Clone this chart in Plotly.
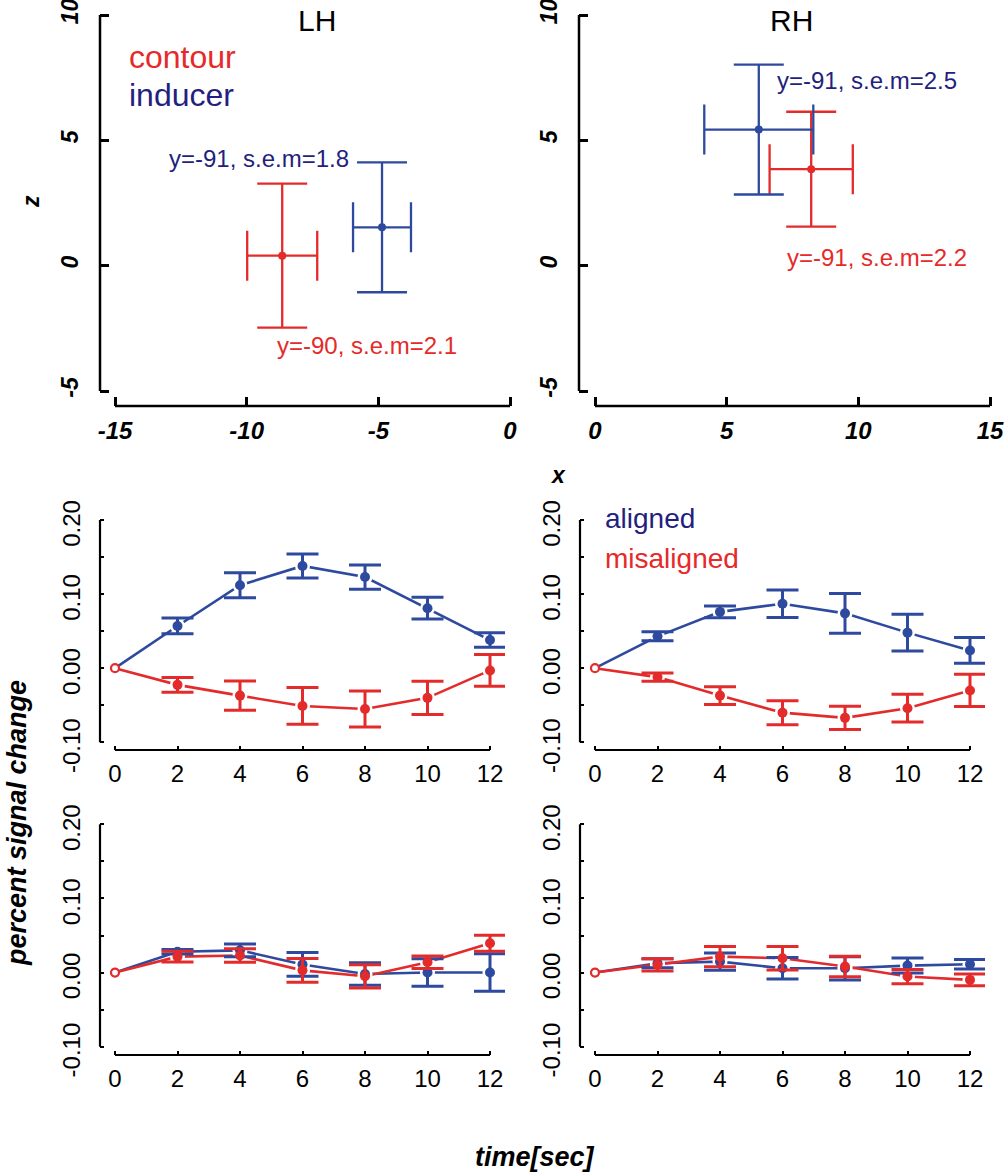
import plotly.graph_objects as go

W, H = 1004, 1172

RED = "#e32b2b"
BLUE = "#2e4a9e"
RED_TXT = "#e62a2a"
NAVY = "#241f7e"
FONT = "Liberation Sans, Arial, sans-serif"

# top row: peak location (x, z) with s.e.m. per hemisphere
hemis = ["LH", "RH"]
contour_x = [-8.65, 8.21]
contour_z = [0.40, 3.85]
contour_x_err = [1.33, 1.58]
contour_z_err = [2.87, 2.29]
inducer_x = [-4.86, 6.22]
inducer_z = [1.53, 5.43]
inducer_x_err = [1.10, 2.07]
inducer_z_err = [2.59, 2.59]
contour_notes = ["y=-90, s.e.m=2.1", "y=-91, s.e.m=2.2"]
inducer_notes = ["y=-91, s.e.m=1.8", "y=-91, s.e.m=2.5"]

# time courses (percent signal change)
time_sec = [0, 2, 4, 6, 8, 10, 12]

lh_aligned = [0, 0.057, 0.112, 0.138, 0.123, 0.081, 0.038]
lh_aligned_err = [0, 0.0106, 0.0169, 0.0162, 0.0164, 0.0146, 0.0097]
lh_misaligned = [0, -0.0225, -0.037, -0.051, -0.055, -0.040, -0.003]
lh_misaligned_err = [0, 0.0101, 0.0198, 0.0248, 0.0243, 0.0225, 0.0214]

rh_aligned = [0, 0.043, 0.076, 0.087, 0.074, 0.048, 0.024]
rh_aligned_err = [0, 0.0061, 0.0079, 0.0187, 0.0268, 0.0248, 0.0173]
rh_misaligned = [0, -0.012, -0.037, -0.060, -0.067, -0.054, -0.030]
rh_misaligned_err = [0, 0.0056, 0.0119, 0.0162, 0.0158, 0.0187, 0.0218]

lh_aligned_ctrl = [0, 0.028, 0.030, 0.011, -0.002, 0.0, 0.0]
lh_aligned_ctrl_err = [0, 0.003, 0.0085, 0.0161, 0.0152, 0.0186, 0.0253]
lh_misaligned_ctrl = [0, 0.0215, 0.023, 0.003, -0.005, 0.014, 0.0395]
lh_misaligned_ctrl_err = [0, 0.0072, 0.009, 0.0159, 0.0157, 0.0085, 0.0108]

rh_aligned_ctrl = [0, 0.0126, 0.0148, 0.0058, 0.0058, 0.0094, 0.0112]
rh_aligned_ctrl_err = [0, 0.006, 0.0117, 0.0146, 0.0157, 0.0101, 0.0065]
rh_misaligned_ctrl = [0, 0.0103, 0.0215, 0.0193, 0.0081, -0.0054, -0.0099]
rh_misaligned_ctrl_err = [0, 0.0083, 0.0135, 0.0157, 0.0139, 0.0096, 0.0078]

top_x_ticks = [[-15, -10, -5, 0], [0, 5, 10, 15]]
top_z_ticks = [-5, 0, 5, 10]
psc_ticks = [-0.10, -0.05, 0.00, 0.05, 0.10, 0.15, 0.20]
psc_labels = ["-0.10", "", "0.00", "", "0.10", "", "0.20"]


def px_range(p0, v0, p1, v1, d0, d1):
    """Map two pixel positions of known values to a range for pixel domain [d0, d1]."""
    k = (v1 - v0) / (p1 - p0)
    return [v0 + (d0 - p0) * k, v0 + (d1 - p0) * k]


def dom_x(a, b):
    return [a / W, b / W]


def dom_y(top, bottom):
    return [1 - bottom / H, 1 - top / H]


fig = go.Figure()

bold_x = dict(family=FONT, size=24, color="black", weight="bold", style="italic")
bold_y = dict(family=FONT, size=23, color="black", weight="bold", style="italic")
plain = dict(family=FONT, size=24, color="black")

# panel geometry in pixels: x/y domain and two (pixel, value) tick anchors per axis
panels = [
    # top row
    dict(xd=(100, 525), yd=(0, 406), xp=(115, -15, 510, 0), yp=(391, -5, 15, 10)),
    dict(xd=(579, 1004), yd=(0, 406), xp=(595, 0, 990, 15), yp=(391, -5, 15, 10)),
    # middle row
    dict(xd=(100, 505), yd=(505, 750), xp=(115, 0, 490, 12), yp=(742.3, -0.1, 520, 0.2)),
    dict(xd=(580, 985), yd=(505, 750), xp=(595, 0, 970, 12), yp=(742.3, -0.1, 520, 0.2)),
    # bottom row
    dict(xd=(100, 505), yd=(809, 1055), xp=(115, 0, 490, 12), yp=(1046.7, -0.1, 824.3, 0.2)),
    dict(xd=(580, 985), yd=(809, 1055), xp=(595, 0, 970, 12), yp=(1046.7, -0.1, 824.3, 0.2)),
]

layout_axes = {}
shapes = []
for i, p in enumerate(panels):
    n = "" if i == 0 else str(i + 1)
    top = i < 2
    xr = px_range(*p["xp"], p["xd"][0], p["xd"][1])
    yr = px_range(*p["yp"], p["yd"][1], p["yd"][0])
    xt = top_x_ticks[i] if top else time_sec
    yt = top_z_ticks if top else psc_ticks
    common = dict(showgrid=False, zeroline=False, showline=False, ticks="inside",
                  tickcolor="black", fixedrange=True, automargin=False,
                  ticklabeloverflow="allow")
    layout_axes["xaxis" + n] = dict(
        common, domain=dom_x(*p["xd"]), range=xr, anchor="y" + n,
        tickvals=xt, ticktext=[str(v) for v in xt],
        ticklen=9 if top else 4, tickwidth=2.5 if top else 2,
        tickfont=bold_x if top else plain,
        ticklabelstandoff=8 if top else 7,
    )
    layout_axes["yaxis" + n] = dict(
        common, domain=dom_y(*p["yd"]), range=yr, anchor="x" + n,
        tickvals=yt, ticktext=[str(v) for v in yt] if top else psc_labels,
        ticklen=9 if top else 4, tickwidth=2.5 if top else 2,
        tickfont=bold_y if top else plain, tickangle=-90,
        ticklabelstandoff=16 if top else 14,
        ticklabelshift=0 if top else 7,
    )
    lw = 2.5 if top else 2.2
    xref = "x" + n
    yref = "y" + n
    shapes.append(dict(type="line", xref=xref, yref=yref + " domain",
                       x0=xt[0], x1=xt[-1], y0=0, y1=0,
                       line=dict(color="black", width=lw)))
    shapes.append(dict(type="line", xref=xref + " domain", yref=yref,
                       x0=0, x1=0, y0=yt[0], y1=yt[-1],
                       line=dict(color="black", width=lw)))

# top row points with error crosses
for h in range(2):
    n = "" if h == 0 else "2"
    for xs, zs, xe, ze, col in [
        (contour_x, contour_z, contour_x_err, contour_z_err, RED),
        (inducer_x, inducer_z, inducer_x_err, inducer_z_err, BLUE),
    ]:
        fig.add_trace(go.Scatter(
            x=[xs[h]], y=[zs[h]], mode="markers", xaxis="x" + n, yaxis="y" + n,
            marker=dict(color=col, size=8),
            error_x=dict(type="data", array=[xe[h]], color=col, thickness=2.3, width=25),
            error_y=dict(type="data", array=[ze[h]], color=col, thickness=2.3, width=25),
            showlegend=False, hoverinfo="skip",
        ))

# time-course panels
series = [
    (3, lh_aligned, lh_aligned_err, lh_misaligned, lh_misaligned_err),
    (4, rh_aligned, rh_aligned_err, rh_misaligned, rh_misaligned_err),
    (5, lh_aligned_ctrl, lh_aligned_ctrl_err, lh_misaligned_ctrl, lh_misaligned_ctrl_err),
    (6, rh_aligned_ctrl, rh_aligned_ctrl_err, rh_misaligned_ctrl, rh_misaligned_ctrl_err),
]
for k, al, al_e, mis, mis_e in series:
    ax = dict(xaxis="x%d" % k, yaxis="y%d" % k, showlegend=False, hoverinfo="skip")
    pairs = [(al, al_e, BLUE), (mis, mis_e, RED)]
    for ys, _, col in pairs:
        fig.add_trace(go.Scatter(x=time_sec, y=ys, mode="lines",
                                 line=dict(color=col, width=2.6), **ax))
    for ys, _, col in pairs:
        # white discs leave small gaps in the line around each point
        fig.add_trace(go.Scatter(x=time_sec[1:], y=ys[1:], mode="markers",
                                 marker=dict(color="white", size=15), **ax))
    for ys, es, col in pairs:
        fig.add_trace(go.Scatter(
            x=time_sec[1:], y=ys[1:], mode="markers",
            marker=dict(color=col, size=10),
            error_y=dict(type="data", array=es[1:], color=col, thickness=3, width=16),
            **ax))
    fig.add_trace(go.Scatter(
        x=time_sec[:1], y=mis[:1], mode="markers",
        marker=dict(color="white", size=8, line=dict(color=RED, width=2.2)), **ax))

annotations = []


def note(text, x, y, color, size, xref="paper", yref="paper", xanchor="left",
         font_extra=None, angle=0):
    f = dict(family=FONT, size=size, color=color)
    if font_extra:
        f.update(font_extra)
    annotations.append(dict(text=text, x=x, y=y, xref=xref, yref=yref,
                            xanchor=xanchor, yanchor="middle", showarrow=False,
                            font=f, textangle=angle))


# hemisphere titles and legend words
note(hemis[0], 317 / W, 1 - 21 / H, "black", 30, xanchor="center")
note(hemis[1], 791 / W, 1 - 21 / H, "black", 30, xanchor="center")
note("contour", 127 / W, 1 - 57 / H, RED_TXT, 32)
note("inducer", 127 / W, 1 - 95 / H, NAVY, 32)
note("aligned", 603 / W, 1 - 518 / H, NAVY, 28)
note("misaligned", 603 / W, 1 - 559 / H, RED_TXT, 28)

# coordinate notes near the top-row points
note(inducer_notes[0], -6.05, 4.27, NAVY, 24, xref="x", yref="y", xanchor="right")
note(contour_notes[0], -8.92, -3.19, RED_TXT, 24, xref="x", yref="y")
note(inducer_notes[1], 6.84, 7.38, NAVY, 24, xref="x2", yref="y2")
note(contour_notes[1], 7.22, 0.32, RED_TXT, 24, xref="x2", yref="y2")

# axis titles
be = dict(weight="bold", style="italic")
note("z", 31 / W, 1 - 202 / H, "black", 23, xanchor="center", font_extra=be, angle=-90)
note("x", 558 / W, 1 - 475 / H, "black", 23, xanchor="center", font_extra=be)
note("percent signal change", 17 / W, 1 - 823 / H, "black", 27, xanchor="center",
     font_extra=be, angle=-90)
note("time[sec]", 535 / W, 1 - 1157 / H, "black", 27, xanchor="center", font_extra=be)

fig.update_layout(
    width=W, height=H,
    margin=dict(l=0, r=0, t=0, b=0),
    paper_bgcolor="white", plot_bgcolor="white",
    shapes=shapes, annotations=annotations,
    **layout_axes,
)

# drop the browser's default 8px body margin so the figure sits at the page corner
fig.write_html("out.html", config={"displayModeBar": False},
               post_script="document.body.style.margin = '0';")
